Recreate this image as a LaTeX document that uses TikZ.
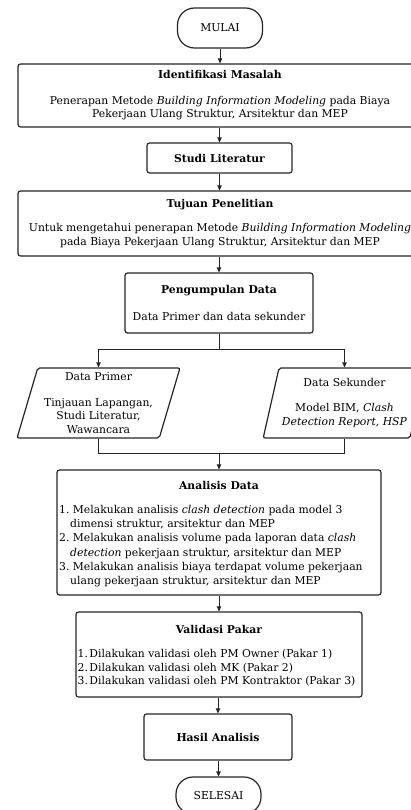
\documentclass[tikz,border=0pt]{standalone}
\usepackage{fontspec}
\setmainfont{DejaVu Serif}
\usetikzlibrary{arrows.meta,shapes.geometric}
\begin{document}
\begin{tikzpicture}[x=1pt,y=-1pt,
  txt/.style={font=\fontsize{10.8}{13.5}\selectfont, text=black},
  box/.style={draw=black!85, line width=1.2pt, rounded corners=2.5pt, align=center, inner sep=0pt, txt},
  term/.style={box, rounded corners=17pt},
  para/.style={trapezium, trapezium left angle=73, trapezium right angle=107, trapezium stretches=true,
    draw=black!85, line width=1.2pt, rounded corners=2pt, align=center, inner sep=0pt, txt,
    minimum width=163pt, minimum height=70pt},
  arr/.style={draw=black!85, line width=0.9pt, -{Triangle[length=5pt,width=4.5pt]}},
  ln/.style={draw=black!85, line width=0.9pt}]
\useasboundingbox (0,0) rectangle (410,810);

\node[term, minimum width=85pt, minimum height=40pt] (start) at (220,28) {MULAI};

\node[box, minimum width=404pt, minimum height=63pt] (ident) at (220,95.5)
  {\textbf{Identifikasi Masalah}\\[12pt]
   Penerapan Metode \textit{Building Information Modeling} pada Biaya\\
   Pekerjaan Ulang Struktur, Arsitektur dan MEP};

\node[box, minimum width=145pt, minimum height=30pt] (studi) at (219.5,158)
  {\textbf{Studi Literatur}};

\node[box, minimum width=404pt, minimum height=65pt] (tujuan) at (220,223.5)
  {\textbf{Tujuan Penelitian}\\[11pt]
   Untuk mengetahui penerapan Metode \textit{Building Information Modeling}\\
   pada Biaya Pekerjaan Ulang Struktur, Arsitektur dan MEP};

\node[box, minimum width=188pt, minimum height=60pt] (kumpul) at (219,303)
  {\textbf{Pengumpulan Data}\\[13pt]
   Data Primer dan data sekunder};

\node[para] (prim) at (98.5,403)
  {Data Primer\\[12pt] Tinjauan Lapangan,\\ Studi Literatur,\\ Wawancara};

\node[para] (sek) at (344.5,403)
  {Data Sekunder\\[12pt] Model BIM, \textit{Clash}\\ \textit{Detection Report, HSP}};

\node[box, minimum width=324pt, minimum height=125pt] (anal) at (219,532.5) {};
\node[txt] (analt) at (219,485) {\textbf{Analisis Data}};
\node[txt, font=\fontsize{10.8}{14.2}\selectfont, align=left, anchor=north west, inner sep=0pt] (analx) at (59,505)
  {1.\ Melakukan analisis \textit{clash detection} pada model 3\\
   \hspace*{11pt}dimensi struktur, arsitektur dan MEP\\
   2.\ Melakukan analisis volume pada laporan data \textit{clash}\\
   \hspace*{11pt}\textit{detection} pekerjaan struktur, arsitektur dan MEP\\
   3.\ Melakukan analisis biaya terdapat volume pekerjaan\\
   \hspace*{11pt}ulang pekerjaan struktur, arsitektur dan MEP};

\node[box, minimum width=286pt, minimum height=85pt] (valid) at (219,654.5) {};
\node[txt] (validt) at (219,629) {\textbf{Validasi Pakar}};
\node[txt, align=left, anchor=north west, inner sep=0pt] (validx) at (77.5,649.5)
  {1.\hspace{1.5pt}Dilakukan validasi oleh PM Owner (Pakar 1)\\
   2.\hspace{1.5pt}Dilakukan validasi oleh MK (Pakar 2)\\
   3.\hspace{1.5pt}Dilakukan validasi oleh PM Kontraktor (Pakar 3)};

\node[box, minimum width=148pt, minimum height=46pt] (hasil) at (218,737)
  {\textbf{Hasil Analisis}};

\node[term, minimum width=85pt, minimum height=37pt] (end) at (218.5,795.5) {SELESAI};

\draw[arr] (start) -- (start |- ident.north);
\draw[arr] (ident.south -| studi) -- (studi.north);
\draw[arr] (studi) -- (studi |- tujuan.north);
\draw[arr] (tujuan.south -| kumpul) -- (kumpul.north);
\coordinate (split) at (219,349);
\draw[ln] (kumpul.south) -- (split);
\draw[arr] (split) -| (prim.center |- prim.north);
\draw[arr] (split) -| (sek.center |- sek.north);
\coordinate (merge) at (219,453);
\draw[ln] (prim.center |- prim.south) |- (merge);
\draw[ln] (sek.center |- sek.south) |- (merge);
\draw[arr] (merge) -- (anal.north);
\draw[arr] (anal.south) -- (valid.north);
\draw[arr] (valid.south -| hasil) -- (hasil.north);
\draw[arr] (hasil.south -| end) -- (end.north);
\end{tikzpicture}
\end{document}
